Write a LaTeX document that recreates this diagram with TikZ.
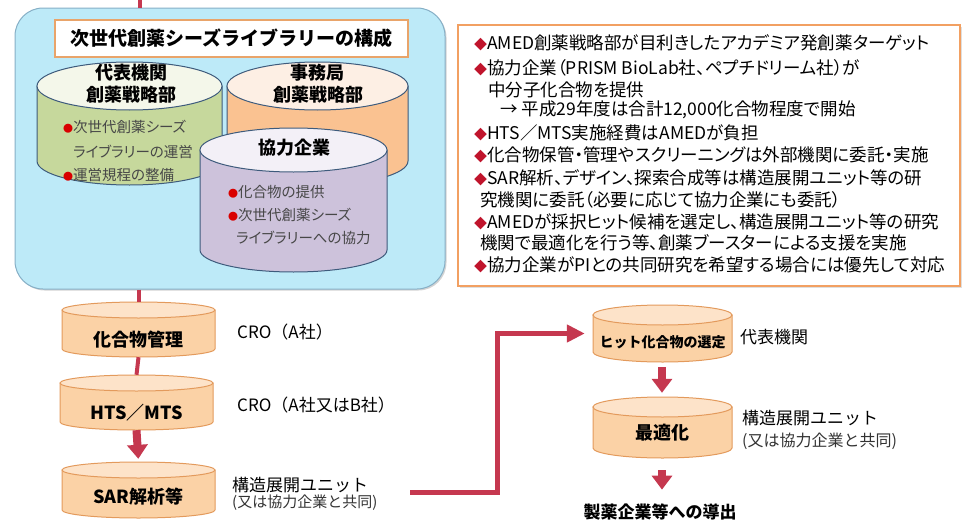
\documentclass[tikz,border=0pt]{standalone}
\usepackage{fontspec}
\setmainfont{Noto Sans CJK JP}
\newfontfamily\pf{Noto Sans CJK JP}[RawFeature=+palt]
\usetikzlibrary{arrows.meta,shadows}
\definecolor{boxblue}{HTML}{BDEAF8}
\definecolor{boxedge}{HTML}{86AFC6}
\definecolor{ttlorange}{HTML}{E9A46A}
\definecolor{slate}{HTML}{3E5B7C}
\definecolor{grnbody}{HTML}{C6D89C}
\definecolor{grntop}{HTML}{F4F7EA}
\definecolor{orgbody}{HTML}{FAC291}
\definecolor{orgtop}{HTML}{FDEFE4}
\definecolor{prpbody}{HTML}{CDC2DB}
\definecolor{prptop}{HTML}{F3F0F7}
\definecolor{peach}{HTML}{FBD2A6}
\definecolor{peachtop}{HTML}{FDE3C9}
\definecolor{peachedge}{HTML}{E39A5C}
\definecolor{flow}{HTML}{C5384F}
\definecolor{dia}{HTML}{C0142C}
\definecolor{rbox}{HTML}{F2A062}
\newcommand{\cyl}[9]{%
  \path[fill=#7,draw=#9,line width=1pt] (#2,#4+#6) -- (#2,#5-#6)
    arc[start angle=180,end angle=360,x radius={(#3-#2)/2*1pt},y radius={#6*1pt}]
    -- (#3,#4+#6) -- cycle;
  \path[fill=#8,draw=#9,line width=1pt] ({(#2+#3)/2},#4+#6)
    ellipse[x radius={(#3-#2)/2*1pt},y radius={#6*1pt}];
  \node[inner sep=0,minimum width={(#3-#2)*1pt},minimum height={(#5-#4)*1pt}]
    (#1) at ({(#2+#3)/2},{(#4+#5)/2}) {};
}
\newcommand{\dm}{{\color{dia}\fontsize{13}{13}\selectfont ◆}}
\newcommand{\bl}{{\color{red!85!black}\fontsize{10}{10}\selectfont ●}}
\begin{document}
\begin{tikzpicture}[x=1pt,y=-1pt,
  tl/.style={anchor=west,inner sep=0,font=\pf\fontsize{17.5}{20}\selectfont},
  cl/.style={anchor=west,inner sep=0,text=black!72,font=\pf\fontsize{14.5}{17}\selectfont},
  hd/.style={inner sep=0,font=\bfseries\fontsize{18}{20}\selectfont},
  lb/.style={anchor=west,inner sep=0,font=\fontsize{17}{19}\selectfont},
  sl/.style={anchor=west,inner sep=0,text=black!80,font=\fontsize{15}{17}\selectfont},
  thinflow/.style={draw=flow,line width=4pt},
  blockarrow/.style={draw=flow,line width=8pt,-{Triangle[length=14pt,width=20pt]}},
  bigline/.style={draw=flow,line width=5pt,-{Triangle[length=18pt,width=17pt]}}]
\useasboundingbox (0,0) rectangle (967,522);

% library box
\node[draw=boxedge,fill=boxblue,line width=1pt,rounded corners=28pt,
  minimum width=430pt,minimum height=281pt,
  drop shadow={shadow xshift=1.5pt,shadow yshift=-1.5pt,opacity=0.35}]
  (lib) at (230,148.5) {};
\node[draw=ttlorange,fill=white,line width=1.5pt,minimum width=353pt,minimum height=37pt,
  font=\bfseries\fontsize{19}{21}\selectfont] (ttl) at (231.5,38.5) {次世代創薬シーズライブラリーの構成};

\cyl{grn}{37}{222}{62}{185}{24}{grnbody}{grntop}{slate}
\cyl{org}{227}{408}{62}{185}{24}{orgbody}{orgtop}{slate}
\node[hd] (grnA) at (131,73) {代表機関};
\node[hd] (grnB) at (131,95) {創薬戦略部};
\node[cl] (g1) at (63,127) {\bl 次世代創薬シーズ};
\node[cl] (g2) at (73,152) {ライブラリーの運営};
\node[cl] (g3) at (63,175) {\bl 運営規程の整備};
\node[hd] (orgA) at (317,73) {事務局};
\node[hd] (orgB) at (318,95) {創薬戦略部};
\cyl{prp}{200}{387}{128}{272}{22}{prpbody}{prptop}{slate}
\node[hd] (prpA) at (294,148) {協力企業};
\node[cl] (p1) at (228,192) {\bl 化合物の提供};
\node[cl] (p2) at (228,215) {\bl 次世代創薬シーズ};
\node[cl] (p3) at (236,238) {ライブラリーへの協力};

% right text box
\node[draw=rbox,fill=white,line width=1.5pt,minimum width=502pt,minimum height=261pt,
  drop shadow={shadow xshift=1.5pt,shadow yshift=-1.5pt,opacity=0.25}]
  (info) at (709,155.5) {};
\node[tl] (r1) at (474,43) {\dm AMED創薬戦略部が目利きしたアカデミア発創薬ターゲット};
\node[tl] (r2) at (474,68) {\dm 協力企業（PRISM BioLab社、ペプチドリーム社）が};
\node[tl] (r3) at (488,90) {中分子化合物を提供};
\node[tl] (r4) at (500,110) {→ 平成29年度は合計12,000化合物程度で開始};
\node[tl] (r5) at (474,133) {\dm HTS／MTS実施経費はAMEDが負担};
\node[tl] (r6) at (474,155) {\dm 化合物保管・管理やスクリーニングは外部機関に委託・実施};
\node[tl] (r7) at (474,178) {\dm SAR解析、デザイン、探索合成等は構造展開ユニット等の研};
\node[tl] (r8) at (480,200) {究機関に委託（必要に応じて協力企業にも委託）};
\node[tl] (r9) at (474,222) {\dm AMEDが採択ヒット候補を選定し、構造展開ユニット等の研究};
\node[tl] (r10) at (480,243) {機関で最適化を行う等、創薬ブースターによる支援を実施};
\node[tl] (r11) at (474,265) {\dm 協力企業がPIとの共同研究を希望する場合には優先して対応};

% left flow
\cyl{kago}{62}{215}{302}{357}{8}{peach}{peachtop}{peachedge}
\cyl{hts}{60}{213}{375}{430}{8}{peach}{peachtop}{peachedge}
\cyl{sar}{62}{215}{462}{518}{8}{peach}{peachtop}{peachedge}
\node[hd] (kagoT) at (138.5,340) {化合物管理};
\node[hd] (htsT) at (136.5,413) {HTS／MTS};
\node[hd] (sarT) at (138.5,497) {SAR解析等};
\node[lb] (cro1) at (237,332) {CRO（A社）};
\node[lb] (cro2) at (237,405) {CRO（A社又はB社）};
\node[lb] (unit1) at (232,485) {構造展開ユニット};
\node[sl] (unit1b) at (232,503) {(又は協力企業と共同)};

% right flow
\cyl{hit}{593}{732}{305}{362}{10}{peach}{peachtop}{peachedge}
\cyl{opt}{593}{732}{397}{458}{10}{peach}{peachtop}{peachedge}
\node[inner sep=0,font=\bfseries\fontsize{14}{16}\selectfont] (hitT) at (662.5,342) {ヒット化合物の選定};
\node[hd] (optT) at (662.5,433) {最適化};
\node[lb] (rep) at (740,337) {代表機関};
\node[lb] (unit2) at (742,418) {構造展開ユニット};
\node[lb,text=black!80,font=\fontsize{16}{18}\selectfont] (unit2b) at (742,441) {(又は協力企業と共同)};
\node[inner sep=0,font=\bfseries\fontsize{17}{19}\selectfont] (outT) at (660,512) {製薬企業等への導出};

% connectors
\coordinate (topc) at (140,0);
\draw[thinflow] (topc) -- (topc |- lib.north);
\draw[thinflow] (lib.south -| kago.north) -- (kago.north);
\draw[thinflow] (kago.south) -- (hts.north);
\draw[blockarrow,shorten >=3pt] (hts.south) -- (sar.north);
\coordinate (lstart) at (410,492);
\coordinate (lbend) at (497,492);
\draw[bigline,shorten >=8pt] (lstart) -- (lbend) |- (hit.west);
\draw[blockarrow,shorten <=5pt,shorten >=4pt] (hit.south -| 662,0) -- (opt.north -| 662,0);
\draw[blockarrow,shorten <=12pt,shorten >=14pt] (opt.south -| 662,0) -- (outT.north -| 662,0);
\end{tikzpicture}
\end{document}
